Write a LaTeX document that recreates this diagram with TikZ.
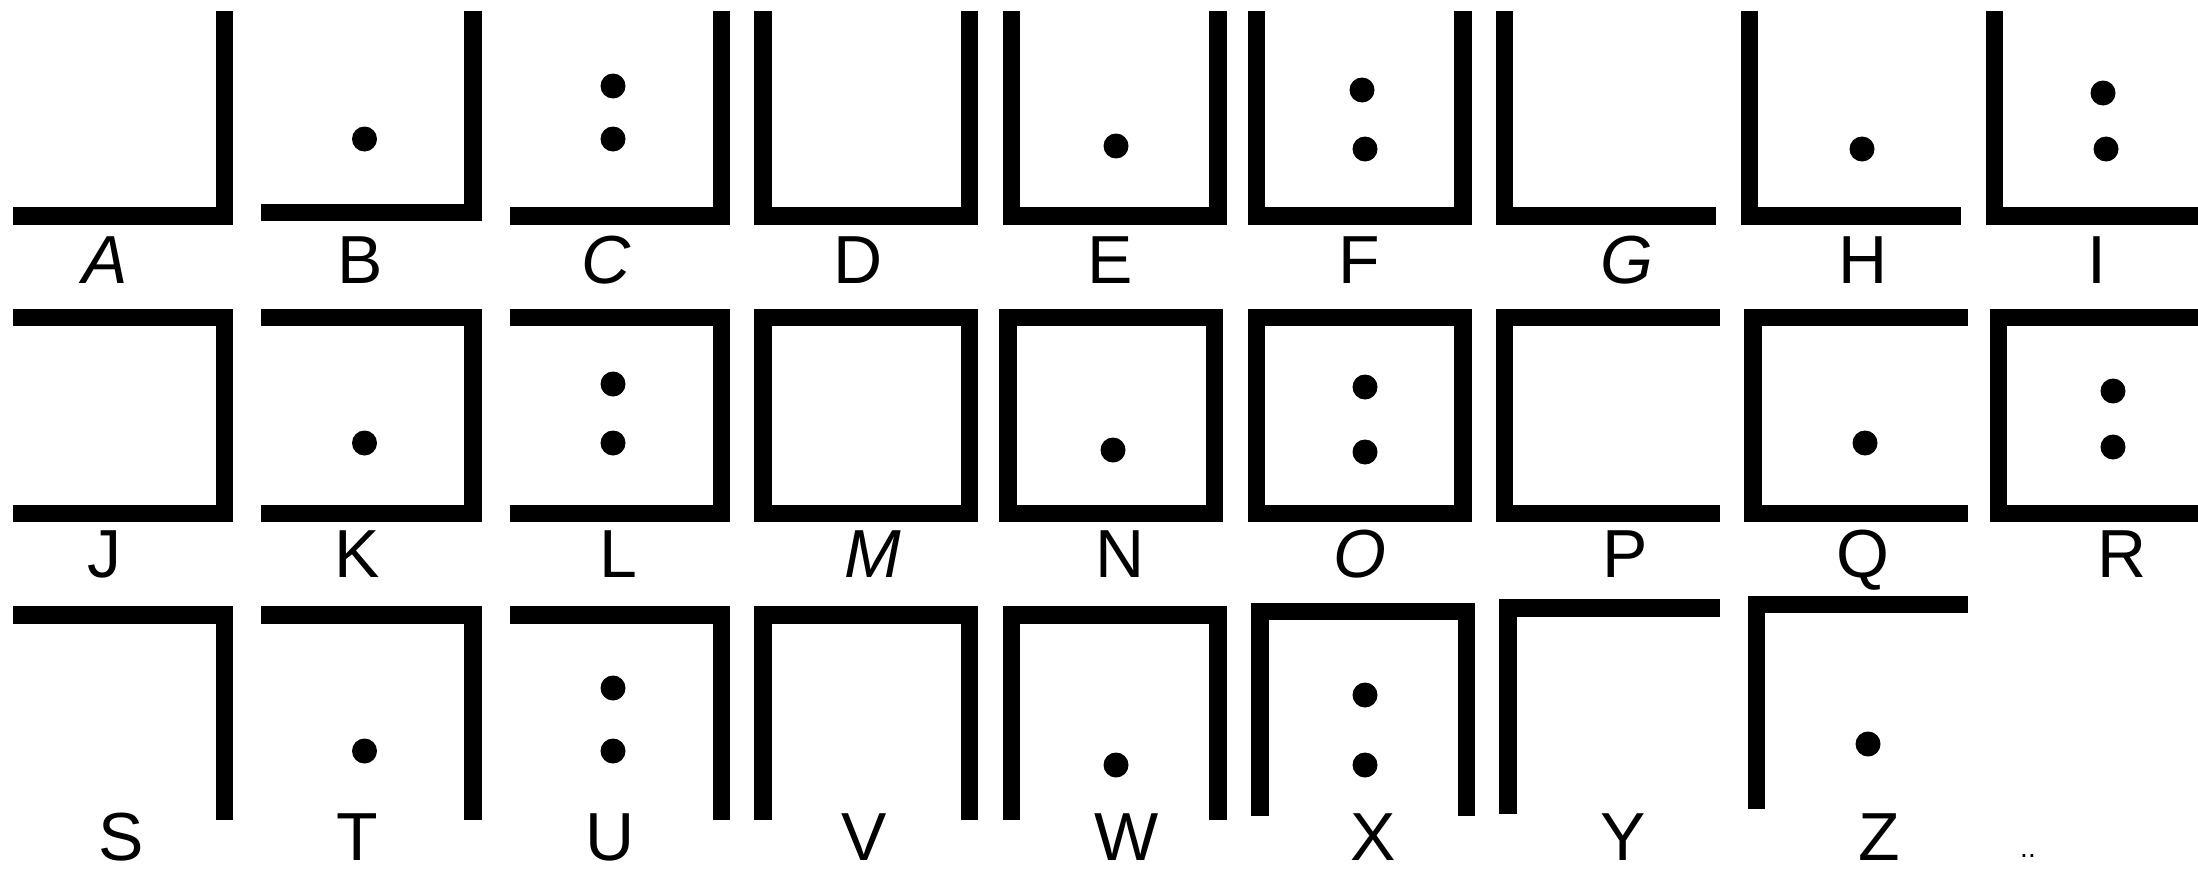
\documentclass[tikz,border=0pt]{standalone}
\usepackage{fontspec}
\setmainfont{Liberation Sans}
\begin{document}
\begin{tikzpicture}[x=1pt,y=-1pt,
  bar/.style={line width=17.5pt, line join=miter, line cap=butt},
  pt/.style={fill=black},
  lab/.style={inner sep=0pt, anchor=base, font=\fontsize{68}{68}\selectfont},
  ilab/.style={lab, font=\fontsize{68}{68}\selectfont\itshape}]
\useasboundingbox (0,0) rectangle (2198,870);
% ---------- row 1 ----------
\draw[bar] (13,216) -- (224.5,216) -- (224.5,11);
\draw[bar] (261,212.5) -- (473,212.5) -- (473,11);
\fill[pt] (364.5,139) circle (12.5);
\draw[bar] (510,216) -- (721.5,216) -- (721.5,11);
\fill[pt] (613,86) circle (12.5);
\fill[pt] (613,139) circle (12.5);
\draw[bar] (763,11) -- (763,216) -- (969.5,216) -- (969.5,11);
\draw[bar] (1011.5,11) -- (1011.5,216) -- (1218,216) -- (1218,11);
\fill[pt] (1116,146) circle (12.5);
\draw[bar] (1256.5,11) -- (1256.5,216) -- (1463,216) -- (1463,11);
\fill[pt] (1362,90) circle (12.5);
\fill[pt] (1365,149) circle (12.5);
\draw[bar] (1504.5,11) -- (1504.5,216) -- (1716,216);
\draw[bar] (1749.5,11) -- (1749.5,216) -- (1961,216);
\fill[pt] (1862,149) circle (12.5);
\draw[bar] (1994.5,11) -- (1994.5,216) -- (2198,216);
\fill[pt] (2103,93) circle (12.5);
\fill[pt] (2106,149) circle (12.5);
\node[ilab] (la) at (105,283) {A};
\node[lab] (lb) at (360,283) {B};
\node[ilab] (lc) at (606,283) {C};
\node[lab] (ld) at (858,283) {D};
\node[lab] (le) at (1110,283) {E};
\node[lab] (lf) at (1359,283) {F};
\node[ilab] (lg) at (1627,283) {G};
\node[lab] (lh) at (1863,283) {H};
\node[lab] (li) at (2097,283) {I};
% ---------- row 2 ----------
\draw[bar] (13,317.5) -- (224.5,317.5) -- (224.5,513.5) -- (13,513.5);
\draw[bar] (261,317.5) -- (473,317.5) -- (473,513.5) -- (261,513.5);
\fill[pt] (364.5,443) circle (12.5);
\draw[bar] (510,317.5) -- (721.5,317.5) -- (721.5,513.5) -- (510,513.5);
\fill[pt] (613,384) circle (12.5);
\fill[pt] (613,443) circle (12.5);
\draw[bar] (763,317.5) rectangle (969.5,513.5);
\draw[bar] (1008,317.5) rectangle (1214.5,513.5);
\fill[pt] (1113,450) circle (12.5);
\draw[bar] (1256.5,317.5) rectangle (1463,513.5);
\fill[pt] (1365,387) circle (12.5);
\fill[pt] (1365,452) circle (12.5);
\draw[bar] (1720,317.5) -- (1504.5,317.5) -- (1504.5,513.5) -- (1720,513.5);
\draw[bar] (1968,317.5) -- (1753,317.5) -- (1753,513.5) -- (1968,513.5);
\fill[pt] (1865,443) circle (12.5);
\draw[bar] (2198,317.5) -- (1998.5,317.5) -- (1998.5,513.5) -- (2198,513.5);
\fill[pt] (2113,391) circle (12.5);
\fill[pt] (2113,447) circle (12.5);
\node[lab] (lj) at (104,577) {J};
\node[lab] (lk) at (357.5,577) {K};
\node[lab] (ll) at (618,577) {L};
\node[ilab] (lm) at (873,577) {M};
\node[lab] (ln) at (1120,577) {N};
\node[ilab] (lo) at (1360,577) {O};
\node[lab] (lp) at (1625,577) {P};
\node[lab] (lq) at (1863,577) {Q};
\node[lab] (lr) at (2122,577) {R};
% ---------- row 3 ----------
\draw[bar] (13,615) -- (224.5,615) -- (224.5,820);
\draw[bar] (261,615) -- (473,615) -- (473,820);
\fill[pt] (364.5,751) circle (12.5);
\draw[bar] (510,615) -- (721.5,615) -- (721.5,820);
\fill[pt] (613,688) circle (12.5);
\fill[pt] (613,751) circle (12.5);
\draw[bar] (763,820) -- (763,615) -- (969.5,615) -- (969.5,820);
\draw[bar] (1011.5,820) -- (1011.5,615) -- (1218,615) -- (1218,820);
\fill[pt] (1116,765) circle (12.5);
\draw[bar] (1260,816) -- (1260,611.5) -- (1466.5,611.5) -- (1466.5,816);
\fill[pt] (1365,695) circle (12.5);
\fill[pt] (1365,765) circle (12.5);
\draw[bar] (1508,814) -- (1508,608) -- (1720,608);
\draw[bar] (1756.5,809) -- (1756.5,604.5) -- (1968,604.5);
\fill[pt] (1868,744) circle (12.5);
\node[lab] (ls) at (121,860) {S};
\node[lab] (lt) at (357.5,860) {T};
\node[lab] (lu) at (610,860) {U};
\node[lab] (lv) at (864,860) {V};
\node[lab] (lw) at (1127,860) {W};
\node[lab] (lx) at (1373,860) {X};
\node[lab] (ly) at (1623,860) {Y};
\node[lab] (lz) at (1879,860) {Z};
\node[inner sep=0pt, anchor=base, font=\fontsize{28}{28}\selectfont] (dd) at (2028,857) {..};
\end{tikzpicture}
\end{document}
